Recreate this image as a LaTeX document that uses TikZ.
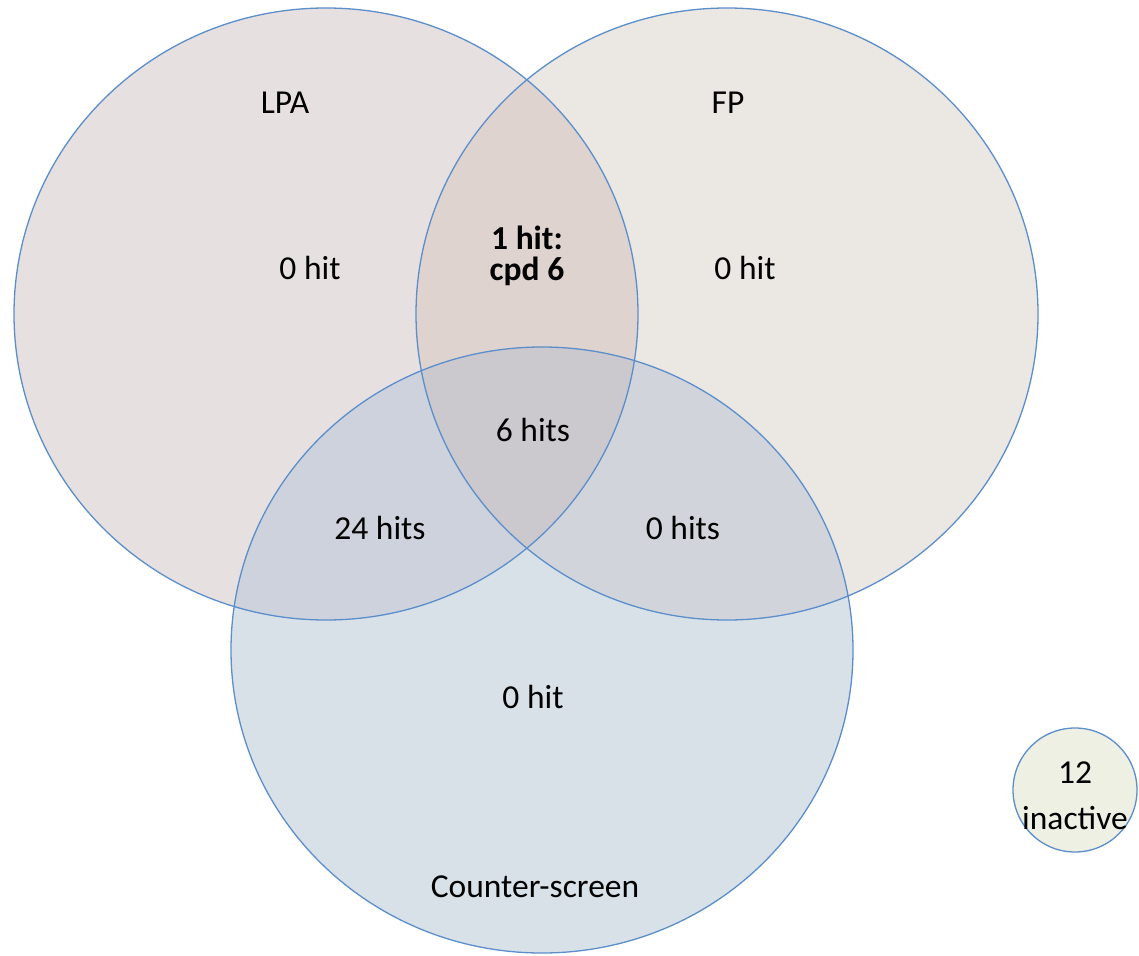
\documentclass[tikz,border=0pt]{standalone}
\usepackage{fontspec}
\setmainfont{Carlito}
\definecolor{cL}{HTML}{E6E1E0}
\definecolor{cF}{HTML}{EBE7E2}
\definecolor{cC}{HTML}{D9E1E8}
\definecolor{cLF}{HTML}{DED3CF}
\definecolor{cLC}{HTML}{CDD2DC}
\definecolor{cFC}{HTML}{D1D5DB}
\definecolor{cLFC}{HTML}{CBC8CE}
\definecolor{cS}{HTML}{EEF0E3}
\definecolor{edge}{HTML}{5B8ECB}
\tikzset{
  lbl/.style={font=\fontsize{33.5}{38}\selectfont, text=black, inner sep=0pt, align=center},
  ring/.style={draw=edge, line width=1.3pt},
}
\def\pLPA{(326,314) ellipse [x radius=312pt, y radius=306pt]}
\def\pFP{(727,314) ellipse [x radius=311pt, y radius=306pt]}
\def\pCS{(542,650) ellipse [x radius=311pt, y radius=303pt]}
\begin{document}
\begin{tikzpicture}[x=1pt,y=-1pt]
\useasboundingbox (0,0) rectangle (1139,955);
% base fills
\fill[cL] \pLPA;
\fill[cF] \pFP;
\fill[cC] \pCS;
% pairwise intersections
\begin{scope}\clip \pLPA; \fill[cLF] \pFP; \end{scope}
\begin{scope}\clip \pLPA; \fill[cLC] \pCS; \end{scope}
\begin{scope}\clip \pFP; \fill[cFC] \pCS; \end{scope}
% triple
\begin{scope}\clip \pLPA; \clip \pFP; \fill[cLFC] \pCS; \end{scope}
% outlines
\draw[ring] \pLPA;
\draw[ring] \pFP;
\draw[ring] \pCS;
% small circle
\node[circle, ring, fill=cS, minimum size=124pt, inner sep=0pt] (inact) at (1075,790) {};
% labels
\node[lbl] (tLPA) at (285,103) {LPA};
\node[lbl] (tFP) at (728,103) {FP};
\node[lbl] (tL0) at (310,268) {0 hit};
\node[lbl, font=\fontsize{33.5}{31}\selectfont\bfseries] (tLF) at (527,256) {1 hit:\\cpd 6};
\node[lbl] (tF0) at (745,268) {0 hit};
\node[lbl] (tAll) at (533,430) {6 hits};
\node[lbl] (tLC) at (380,528) {24 hits};
\node[lbl] (tFC) at (683,528) {0 hits};
\node[lbl] (tC0) at (533,697) {0 hit};
\node[lbl] (tCS) at (535,887) {Counter-screen};
\node[lbl, font=\fontsize{33.5}{46}\selectfont] (tIn) at ([yshift=-6pt]inact.center) {12\\inactive};
\end{tikzpicture}
\end{document}
